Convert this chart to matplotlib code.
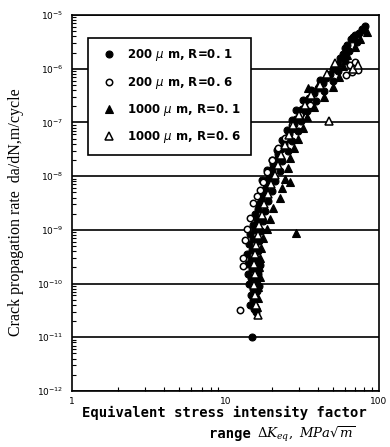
import matplotlib
matplotlib.use("Agg")
import matplotlib.pyplot as plt
from matplotlib.ticker import LogLocator, FixedLocator, NullFormatter

# ---- data ----
fc_K = [81, 77, 74, 70, 66, 72, 60, 64, 56, 60, 50, 54, 45, 50, 40, 44, 35, 39,
        31.5, 34, 29, 31, 27, 29.5, 25, 27, 23, 25.5, 21.5, 23.5, 20, 22.5, 19, 21,
        18, 20, 17, 19, 16.3, 18, 16, 17.5, 15.5, 17, 15, 16.5, 14.8, 16.2, 14.6, 16,
        14.9, 16.3, 14.7, 16, 15, 16.1, 15.2, 15.4, 14.9,
        79, 68, 62, 58, 54, 48, 43, 38, 34.5, 31, 28, 26, 24, 22, 20.5, 19.5, 18.5,
        17.3, 16.5, 15.5, 15.0, 14.5, 14.2, 13.8, 14.0, 14.0, 14.3, 14.6, 14.5, 15.8,
        16.2, 16.8, 16.5,
        41, 36, 32, 29, 27, 25, 23.2, 21.5, 20, 18.6, 17.3]
fc_r = [6.2e-6, 5.6e-6, 4.6e-6, 4.2e-6, 3.5e-6, 3.2e-6, 2.4e-6, 2.1e-6, 1.6e-6, 1.4e-6,
        1.0e-6, 9.2e-7, 6.6e-7, 6.0e-7, 4.3e-7, 3.9e-7, 2.8e-7, 2.5e-7, 1.8e-7, 1.6e-7,
        1.15e-7, 1.05e-7, 7.5e-8, 6.9e-8, 4.9e-8, 4.5e-8, 3.2e-8, 2.9e-8, 2.1e-8, 1.9e-8,
        1.35e-8, 1.25e-8, 8.8e-9, 8.2e-9, 5.7e-9, 5.3e-9, 3.7e-9, 3.5e-9, 2.4e-9, 2.2e-9,
        1.55e-9, 1.45e-9, 1.0e-9, 9.6e-10, 6.7e-10, 6.3e-10, 4.3e-10, 4.1e-10, 2.8e-10, 2.6e-10,
        1.85e-10, 1.75e-10, 1.25e-10, 1.15e-10, 7.8e-11, 7.4e-11, 5.0e-11, 3.3e-11, 1.0e-11,
        5.2e-6, 3.9e-6, 2.8e-6, 1.9e-6, 1.25e-6, 8.0e-7, 5.5e-7, 3.6e-7, 2.3e-7, 1.5e-7,
        9.5e-8, 6.0e-8, 4.0e-8, 2.6e-8, 1.7e-8, 1.1e-8, 7.2e-9, 4.5e-9, 3.0e-9, 2.0e-9,
        1.25e-9, 8.5e-10, 5.5e-10, 3.6e-10, 2.3e-10, 1.5e-10, 1.0e-10, 6.0e-11, 4.0e-11,
        2.9e-11, 1.5e-10, 2.2e-10, 9.0e-11,
        6.2e-7, 4.0e-7, 2.6e-7, 1.7e-7, 1.1e-7, 7.2e-8, 4.7e-8, 3.1e-8, 2.0e-8, 1.3e-8, 8.5e-9]

oc_K = [64.7, 69.8, 67, 72.5, 61, 35.5, 30.6, 27, 24.4, 22.0, 20.1, 18.6, 17.5, 16.8,
        16.0, 15.1, 14.4, 13.8, 13.4, 13.0, 13.0, 12.4]
oc_r = [1.17e-6, 1.33e-6, 8.7e-7, 9.5e-7, 7.6e-7, 2.1e-7, 1.37e-7, 8.9e-8, 5.1e-8, 3.3e-8,
        2.0e-8, 1.19e-8, 7.8e-9, 5.5e-9, 4.3e-9, 3.2e-9, 1.66e-9, 1.04e-9, 6.5e-10, 3.0e-10,
        2.1e-10, 3.2e-11]

ft_K = [83, 75, 70, 62, 58, 55, 50, 44, 38, 34, 32, 29.5, 28, 26.5, 25.5, 24.5, 26.5,
        23.5, 22.5, 20.5, 19.5, 18.5, 17.5, 17, 16.8, 16.6, 16.8, 16.4, 16.2, 16.0,
        34.5, 40.6, 28.8]
ft_r = [4.8e-6, 3.6e-6, 2.5e-6, 1.8e-6, 1.1e-6, 7.0e-7, 4.6e-7, 3.0e-7, 1.9e-7, 1.25e-7,
        8.0e-8, 5.0e-8, 3.3e-8, 2.2e-8, 1.4e-8, 9.0e-9, 7.8e-9, 6.0e-9, 3.9e-9, 2.5e-9,
        1.6e-9, 1.05e-9, 7.0e-10, 4.5e-10, 3.0e-10, 2.0e-10, 1.3e-10, 8.5e-11, 5.5e-11, 3.6e-11,
        4.4e-7, 5.4e-7, 8.7e-10]

ot_K = [16.3, 15.8, 15.6, 15.4, 15.5, 15.3, 15.5, 15.8, 16.2, 16.6, 17.2, 17.8, 18.8,
        19.8, 21, 22, 23, 24.5, 26, 27.5, 30, 33, 36, 41, 46, 52, 68, 73, 47.2]
ot_r = [2.6e-11, 4.0e-11, 6.2e-11, 9.5e-11, 1.5e-10, 2.3e-10, 3.5e-10, 5.3e-10, 8.0e-10,
        1.25e-9, 1.9e-9, 3.0e-9, 4.6e-9, 7.0e-9, 1.05e-8, 1.6e-8, 2.5e-8, 3.8e-8, 5.8e-8,
        9.0e-8, 1.35e-7, 2.1e-7, 3.3e-7, 5.0e-7, 8.0e-7, 1.3e-6, 1.0e-6, 1.15e-6, 1.06e-7]

labels = ["200 $\\mu$ m, R=0. 1", "200 $\\mu$ m, R=0. 6",
          "1000 $\\mu$ m, R=0. 1", "1000 $\\mu$ m, R=0. 6"]
yticks = [1e-12, 1e-11, 1e-10, 1e-9, 1e-8, 1e-7, 1e-6, 1e-5]
ytick_labels = ["$10^{-12}$", "$10^{-11}$", "$10^{-10}$", "$10^{-9}$",
                "$10^{-8}$", "$10^{-7}$", "$10^{-6}$", "$10^{-5}$"]
xticks = [1, 10, 100]
xtick_labels = ["1", "10", "100"]

plt.rcParams['mathtext.fontset'] = 'dejavusans'
fig = plt.figure(figsize=(3.9, 4.47), dpi=100)
ax = fig.add_axes([72/390, 1-391/447, 307/390, 376/447])
ax.set_xscale('log')
ax.set_yscale('log')
ax.set_xlim(1, 100)
ax.set_ylim(1e-12, 1e-5)

ms = 5.0
ax.plot(fc_K, fc_r, 'o', ms=ms, color='black', mec='black', mew=0.8, ls='none', label=labels[0], zorder=3)
ax.plot(oc_K, oc_r, 'o', ms=ms - 0.4, mfc='white', mec='black', mew=1.1, ls='none', label=labels[1], zorder=3)
ax.plot(ft_K, ft_r, '^', ms=ms + 0.6, color='black', mec='black', mew=0.8, ls='none', label=labels[2], zorder=3)
ax.plot(ot_K, ot_r, '^', ms=ms + 0.4, mfc='white', mec='black', mew=1.1, ls='none', label=labels[3], zorder=3)

ax.yaxis.set_major_locator(FixedLocator(yticks))
ax.set_yticklabels(ytick_labels)
ax.yaxis.set_minor_locator(LogLocator(base=10, subs=range(2, 10), numticks=20))
ax.yaxis.set_minor_formatter(NullFormatter())
ax.xaxis.set_major_locator(FixedLocator(xticks))
ax.set_xticklabels(xtick_labels)
ax.xaxis.set_minor_locator(LogLocator(base=10, subs=range(2, 10), numticks=20))
ax.xaxis.set_minor_formatter(NullFormatter())
ax.tick_params(which='both', direction='in', top=False, right=False, labelsize=6.5)
ax.tick_params(axis='y', which='major', length=0, pad=6)
ax.tick_params(axis='x', which='major', length=0, pad=4)
ax.tick_params(which='minor', length=3, width=0.8)
ax.grid(True, axis='y', which='major', color='black', lw=1.2)
for s in ax.spines.values():
    s.set_linewidth(1.2)

leg = ax.legend(loc='upper left', bbox_to_anchor=(16/307, (391-38)/376), borderaxespad=0,
                frameon=True, fancybox=False, framealpha=1, edgecolor='black',
                prop={'family': 'DejaVu Sans', 'weight': 'bold', 'size': 8.5},
                handletextpad=0.5, labelspacing=0.95, borderpad=0.8, handlelength=2.0)
leg.get_frame().set_linewidth(1.2)
leg.set_zorder(5)

ax.set_ylabel("Crack propagation rate  da/dN,m/cycle", family='Liberation Serif',
              fontsize=11.5)
ax.yaxis.set_label_coords((24 - 72) / 307, (391 - 212) / 376)
fig.text(224/390, 1 - 413/447, "Equivalent stress intensity factor", ha='center', va='center',
         family='DejaVu Sans Mono', weight='bold', fontsize=10)
fig.text(251/390, 1 - 434/447, "range", ha='right', va='center',
         family='DejaVu Sans Mono', weight='bold', fontsize=10)
fig.text(257/390, 1 - 434/447, "$\\Delta K_{eq},\\ MPa\\sqrt{m}$", ha='left', va='center',
         fontsize=9.5, math_fontfamily='dejavuserif')

fig.savefig("out.png", dpi=100)
